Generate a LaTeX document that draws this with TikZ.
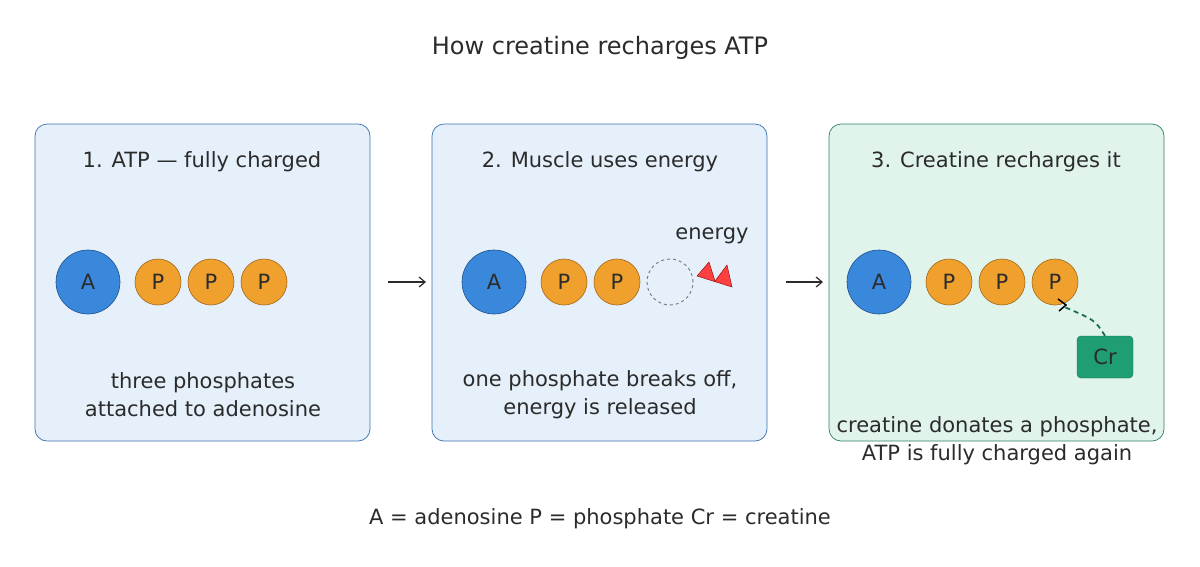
\documentclass[tikz,border=0pt]{standalone}
\usepackage{fontspec}
\setmainfont{DejaVu Sans}
\usetikzlibrary{arrows.meta}
\definecolor{bfill}{HTML}{E5F0FA}
\definecolor{bdraw}{HTML}{3A70B0}
\definecolor{gfill}{HTML}{E1F4EC}
\definecolor{gdraw}{HTML}{2A8060}
\definecolor{afill}{HTML}{3A88DC}
\definecolor{adraw}{HTML}{1F4E8A}
\definecolor{pfill}{HTML}{F0A02C}
\definecolor{pdraw}{HTML}{A0651A}
\definecolor{crfill}{HTML}{1E9E72}
\definecolor{crdraw}{HTML}{157050}
\definecolor{txt}{HTML}{2B2B2B}
\begin{document}
\begin{tikzpicture}[x=1pt,y=-1pt,
  every node/.style={text=txt,font=\fontsize{21}{28}\selectfont},
  box/.style={draw=bdraw,fill=bfill,rounded corners=12pt,line width=0.7pt},
  gbox/.style={draw=gdraw,fill=gfill,rounded corners=12pt,line width=0.7pt},
  aden/.style={circle,draw=adraw,fill=afill,minimum size=64pt,inner sep=0pt,line width=0.6pt},
  phos/.style={circle,draw=pdraw,fill=pfill,minimum size=46pt,inner sep=0pt,line width=0.6pt},
  gone/.style={circle,draw=gray,dashed,minimum size=46pt,inner sep=0pt,line width=1pt},
  steparrow/.style={-{Straight Barb[length=6pt,width=10pt]},line width=1.2pt,draw=txt}]
\useasboundingbox (0,0) rectangle (1200,566);
\node at (600,48) {\fontsize{24}{28}\selectfont How creatine recharges ATP};
\draw[box] (35,124) rectangle (370,441);
\draw[box] (432,124) rectangle (767,441);
\draw[gbox] (829,124) rectangle (1164,441);
\node at (202,162) {1. ATP — fully charged};
\node at (600,162) {2. Muscle uses energy};
\node at (996,162) {3. Creatine recharges it};
% panel 1
\node[aden] (a1) at (88,282) {A};
\node[phos] (p11) at (158,282) {P};
\node[phos] (p12) at (211,282) {P};
\node[phos] (p13) at (264,282) {P};
\node[align=center] at (203,395) {three phosphates\\attached to adenosine};
% panel 2
\node[aden] (a2) at (494,282) {A};
\node[phos] (p21) at (564,282) {P};
\node[phos] (p22) at (617,282) {P};
\node[gone] (p23) at (670,282) {};
\node (en) at (712,236) {energy};
\fill[fill=red!75!white,draw=red!50!black,line width=0.4pt] (697,276) -- (709,262) -- (715,281) -- (727,265) -- (732,287) -- cycle;
\node[align=center] at (600,395) {one phosphate breaks off,\\energy is released};
% panel 3
\node[aden] (a3) at (879,282) {A};
\node[phos] (p31) at (949,282) {P};
\node[phos] (p32) at (1002,282) {P};
\node[phos] (p33) at (1055,282) {P};
\node[draw=crdraw,fill=crfill,rounded corners=4pt,minimum width=56pt,minimum height=42pt] (cr) at (1105,357) {Cr};
\draw[line width=1.8pt,draw=crdraw,dash pattern=on 5pt off 4pt] (cr.north) .. controls (1095,320) .. (1062,306);
\draw[line width=1.5pt,draw=black] (1058,299) -- (1066,305) -- (1059,311);
\node[align=center] at (997,441) {creatine donates a phosphate,\\ATP is fully charged again};
% step arrows
\coordinate (s1) at (388,282); \coordinate (e1) at (426,282);
\coordinate (s2) at (786,282); \coordinate (e2) at (823,282);
\draw[steparrow] (s1) -- (e1);
\draw[steparrow] (s2) -- (e2);
\node at (600,519) {A = adenosine P = phosphate Cr = creatine};
\end{tikzpicture}
\end{document}
